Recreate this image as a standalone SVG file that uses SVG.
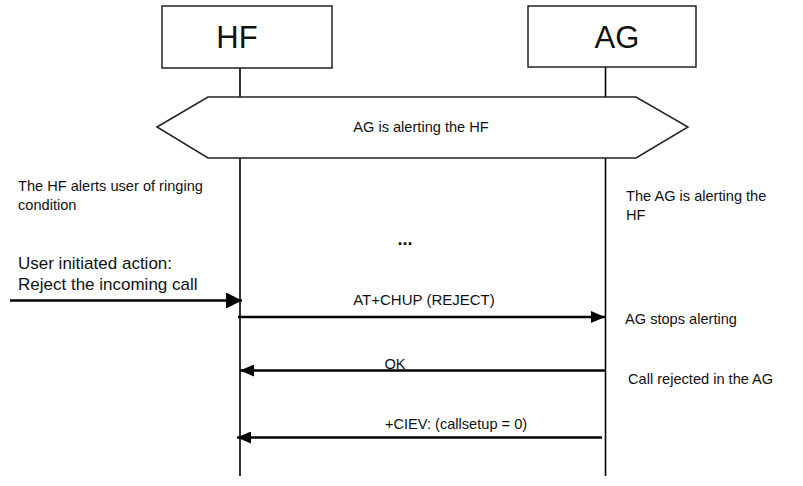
<svg xmlns="http://www.w3.org/2000/svg" width="803" height="486" viewBox="0 0 803 486">
<defs>
<marker id="ah" markerWidth="14" markerHeight="12" refX="14" refY="6" orient="auto" markerUnits="userSpaceOnUse">
<path d="M0,0 L14,6 L0,12 Z" fill="#000"/>
</marker>
<marker id="ahBig" markerWidth="16" markerHeight="16" refX="16" refY="8" orient="auto" markerUnits="userSpaceOnUse">
<path d="M0,0 L16,8 L0,16 Z" fill="#000"/>
</marker>
<style>
text{font-family:"Liberation Sans",Arial,sans-serif;fill:#111}
.box{fill:#fff;stroke:#222;stroke-width:1.5}
.life{stroke:#000;stroke-width:1.6;fill:none}
.msg{stroke:#000;stroke-width:2.6;fill:none}
.t13{font-size:14.6px}
.t16{font-size:17px}
</style>
</defs>
<rect width="803" height="486" fill="#fff"/>
<g id="lifelines">
<line class="life" x1="240" y1="68" x2="240" y2="97"/>
<line class="life" x1="240" y1="158" x2="240" y2="476"/>
<line class="life" x1="605.5" y1="67" x2="605.5" y2="97"/>
<line class="life" x1="605.5" y1="158" x2="605.5" y2="476"/>
</g>
<g id="hf">
<rect class="box" x="162" y="6" width="170" height="62"/>
<text x="237" y="48" font-size="31" text-anchor="middle">HF</text>
</g>
<g id="ag">
<rect class="box" x="528" y="6" width="168" height="61"/>
<text x="617" y="48" font-size="31" text-anchor="middle">AG</text>
</g>
<g id="alerting">
<polygon class="box" points="157,127 208,97 636,97 688,127 636,158 208,158"/>
<text x="421" y="132" class="t13" text-anchor="middle">AG is alerting the HF</text>
</g>
<g id="notes">
<text x="18" y="191" class="t13">The HF alerts user of ringing</text>
<text x="18" y="210" class="t13">condition</text>
<text x="626" y="201" class="t13">The AG is alerting the</text>
<text x="626" y="220" class="t13">HF</text>
<text x="405" y="245" font-size="18" font-weight="bold" text-anchor="middle">...</text>
<text x="18" y="269" class="t16">User initiated action:</text>
<text x="18" y="290" class="t16">Reject the incoming call</text>
<text x="625" y="324" class="t13">AG stops alerting</text>
<text x="628" y="384" class="t13">Call rejected in the AG</text>
</g>
<g id="connectors">
<line class="msg" x1="10" y1="300.5" x2="242" y2="300.5" stroke-width="2" marker-end="url(#ahBig)"/>
<line class="msg" x1="238" y1="317" x2="605" y2="317" marker-end="url(#ah)"/>
<line class="msg" x1="605" y1="370.5" x2="240" y2="370.5" marker-end="url(#ah)"/>
<line class="msg" x1="602" y1="437.5" x2="237" y2="437.5" marker-end="url(#ah)"/>
</g>
<g id="labels">
<text x="424" y="305" font-size="15" text-anchor="middle">AT+CHUP (REJECT)</text>
<text x="395" y="369" class="t13" text-anchor="middle">OK</text>
<text x="456" y="429" class="t13" text-anchor="middle">+CIEV: (callsetup = 0)</text>
</g>
</svg>
